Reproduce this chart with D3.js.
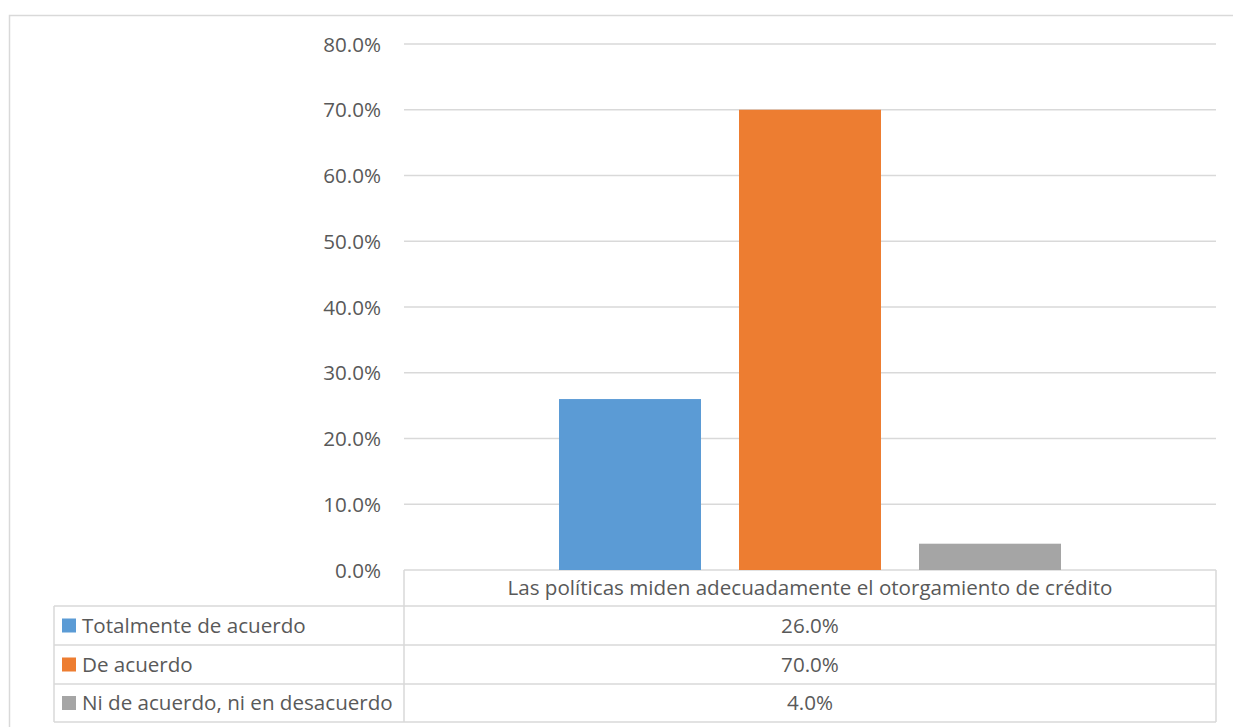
<!DOCTYPE html>
<html><head><meta charset="utf-8">
<script src="https://cdn.jsdelivr.net/npm/d3@7"></script>
<style>body{margin:0;background:#fff}svg{display:block}text{font-family:"Open Sans","Noto Sans",sans-serif;fill:#595959}</style>
</head><body>
<svg id="c" width="1233" height="727"></svg>
<script>
const category = "Las políticas miden adecuadamente el otorgamiento de crédito";
const seriesNames = ["Totalmente de acuerdo", "De acuerdo", "Ni de acuerdo, ni en desacuerdo"];
const seriesValues = [0.26, 0.70, 0.04];
const seriesColors = ["#5b9bd5", "#ed7d31", "#a5a5a5"];
const yTicks = [0, 0.1, 0.2, 0.3, 0.4, 0.5, 0.6, 0.7, 0.8];

const svg = d3.select("#c");
const grid = "#d9d9d9";
const FS = "20.6px";
const L = 404, R = 1216, T = 44, B = 570;
const fmt = d3.format(".1%");

svg.append("rect").attr("x", 9.5).attr("y", 15.5).attr("width", 1240).attr("height", 740)
  .attr("fill", "none").attr("stroke", grid).attr("stroke-width", 1.5);

const y = d3.scaleLinear().domain([0, 0.8]).range([B, T]);
const x0 = d3.scaleBand().domain([category]).range([L, R]);
const x1 = d3.scaleBand().domain(seriesNames).range([x0(category) + 155, x0(category) + x0.bandwidth() - 155]).paddingInner(38 / 180);

// gridlines
svg.append("g").selectAll("line").data(yTicks).join("line")
  .attr("x1", L).attr("x2", R).attr("y1", d => y(d)).attr("y2", d => y(d))
  .attr("stroke", grid).attr("stroke-width", 1.5);

// y axis labels
const yAxis = d3.axisLeft(y).tickValues(yTicks).tickFormat(fmt).tickSize(0).tickPadding(0);
const ga = svg.append("g").attr("transform", `translate(381,0)`).call(yAxis);
ga.select(".domain").remove();
ga.selectAll("text").style("font-size", FS).attr("fill", "#595959").attr("dy", "0.35em")
  .style("font-family", '"Open Sans","Noto Sans",sans-serif');

// bars
svg.append("g").selectAll("rect").data(seriesNames).join("rect")
  .attr("x", d => x1(d)).attr("width", x1.bandwidth())
  .attr("y", (d, i) => y(seriesValues[i])).attr("height", (d, i) => B - y(seriesValues[i]))
  .attr("fill", (d, i) => seriesColors[i]);

// data table
const rowTops = [570, 606, 645, 684, 722];
const tl = 54;
const tg = svg.append("g");
const line = (x1_, y1_, x2_, y2_) => tg.append("line").attr("x1", x1_).attr("y1", y1_).attr("x2", x2_).attr("y2", y2_)
  .attr("stroke", grid).attr("stroke-width", 1.5);
line(L, 570, L, 722);
line(R, 570, R, 722);
for (let i = 1; i < rowTops.length; i++) line(tl, rowTops[i], R, rowTops[i]);
line(tl, 606, tl, 722);

tg.append("text").attr("x", (L + R) / 2).attr("y", (570 + 606) / 2).attr("dy", "0.35em")
  .attr("text-anchor", "middle").style("font-size", FS).text(category);

seriesNames.forEach((s, i) => {
  const top = rowTops[i + 1], bot = rowTops[i + 2], mid = (top + bot) / 2;
  tg.append("rect").attr("x", 62).attr("y", mid - 7).attr("width", 14).attr("height", 14).attr("fill", seriesColors[i]);
  tg.append("text").attr("x", 82).attr("y", mid).attr("dy", "0.35em").style("font-size", FS).text(s);
  tg.append("text").attr("x", (L + R) / 2).attr("y", mid).attr("dy", "0.35em").attr("text-anchor", "middle")
    .style("font-size", FS).text(fmt(seriesValues[i]));
});
</script>
</body></html>
